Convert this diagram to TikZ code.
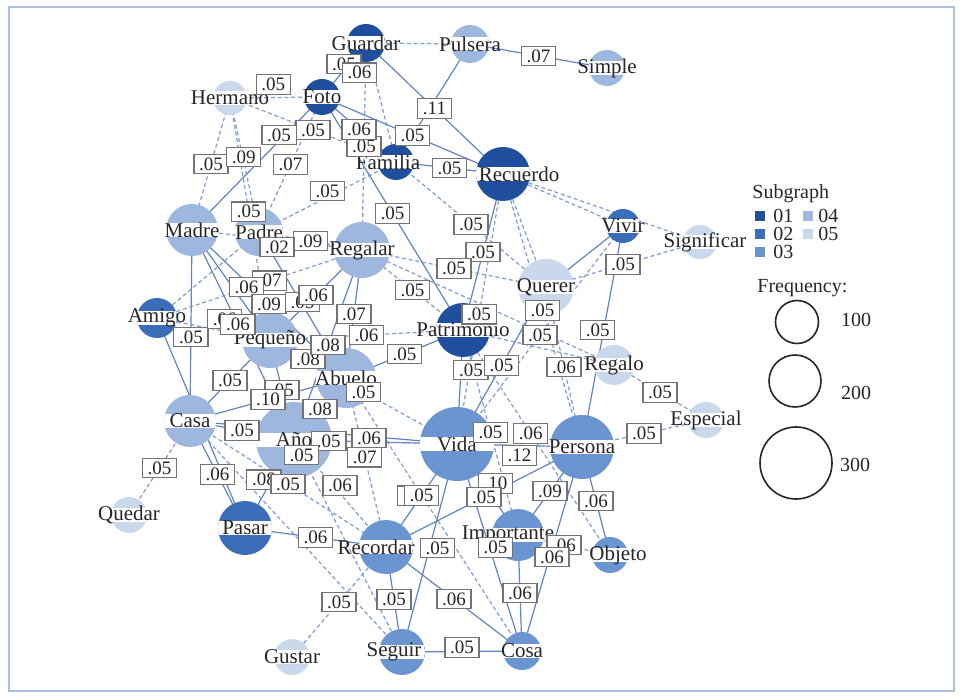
\documentclass[tikz,border=0pt]{standalone}
\usepackage{fontspec}
\setmainfont{Liberation Serif}
\definecolor{cA}{HTML}{1F4F9E}
\definecolor{cB}{HTML}{3B6DB8}
\definecolor{cC}{HTML}{6A95D1}
\definecolor{cD}{HTML}{9DB7DE}
\definecolor{cE}{HTML}{CAD8EC}
\definecolor{edgeS}{HTML}{6284C0}
\definecolor{edgeD}{HTML}{7F9DD2}
\definecolor{framec}{HTML}{A9BFDD}
\pgfdeclarelayer{bgl}
\pgfdeclarelayer{edges}
\pgfsetlayers{bgl,edges,main}
\tikzset{
  wnode/.style={circle, inner sep=0pt, draw=none,
    path picture={\fill[white] ([yshift=-3.4pt]path picture bounding box.west) rectangle ([yshift=3.4pt]path picture bounding box.east);}},
  wlabel/.style={inner sep=0pt, font=\fontsize{10.5}{12}\selectfont, text=black!85},
  sol/.style={draw=edgeS, line width=0.6pt},
  dsh/.style={draw=edgeD, line width=0.6pt, dash pattern=on 2pt off 1.4pt},
  elab/.style={draw=black!55, fill=white, line width=0.6pt, inner xsep=2.6pt, inner ysep=1.6pt, font=\fontsize{9.5}{11}\selectfont, text=black!85},
  legtxt/.style={inner sep=0pt, font=\fontsize{10}{12}\selectfont, text=black!85},
  legsq/.style={minimum size=5pt, inner sep=0pt, draw=none},
  legcirc/.style={circle, draw=black!85, line width=0.8pt, inner sep=0pt}
}
% \wn[label options]{name}{x}{y}{radius px}{colour}{text}
\newcommand\wn[7][]{\node[wnode, fill=#6, minimum size=#5pt, label={[wlabel,#1]center:#7}] (#2) at (#3,#4) {};}
% \E[label options]{style}{from}{to}{pos}{label}
\newcommand\E[6][]{%
  \begin{pgfonlayer}{edges}\draw[#2] (#3.center) -- (#4.center) coordinate[pos=#5] (lp);\end{pgfonlayer}
  \node[elab,#1] at (lp) {#6};}
\newcommand\En[3]{%
  \begin{pgfonlayer}{edges}\draw[#1] (#2.center) -- (#3.center);\end{pgfonlayer}}
\begin{document}
\begin{tikzpicture}[x=0.5pt,y=-0.5pt]
\useasboundingbox (0,0) rectangle (962,699);
\begin{pgfonlayer}{bgl}
\fill[white] (0,0) rectangle (962,699);
\end{pgfonlayer}
\draw[framec, line width=1pt] (9,7) rectangle (954,691);
% nodes
\wn{guardar}{366}{43}{19}{cA}{Guardar}
\wn{pulsera}{470}{44}{19}{cD}{Pulsera}
\wn{simple}{607}{68}{18}{cD}{Simple}
\wn{hermano}{230}{98}{17}{cE}{Hermano}
\wn{foto}{322}{97}{18}{cA}{Foto}
\wn[xshift=-4pt]{familia}{396}{162}{18}{cA}{Familia}
\wn[xshift=8pt]{recuerdo}{503}{174}{27}{cA}{Recuerdo}
\wn{vivir}{623}{226}{17}{cB}{Vivir}
\wn[xshift=2.5pt]{significar}{700}{242}{17}{cE}{Significar}
\wn{madre}{192}{230}{26}{cD}{Madre}
\wn{padre}{259}{232}{24}{cD}{Padre}
\wn{regalar}{362}{250}{28}{cD}{Regalar}
\wn{querer}{546}{287}{28}{cE}{Querer}
\wn{amigo}{157}{318}{20}{cB}{Amigo}
\wn{pequeno}{270}{340}{28}{cD}{Pequeño}
\wn{patrimonio}{463}{330}{27}{cA}{Patrimonio}
\wn{abuelo}{346}{378}{30}{cD}{Abuelo}
\wn{regalo}{614}{365}{20}{cE}{Regalo}
\wn{casa}{190}{421}{26}{cD}{Casa}
\wn{ano}{294}{440}{38}{cD}{Año}
\wn{vida}{457}{444}{37}{cC}{Vida}
\wn{persona}{582}{447}{32}{cC}{Persona}
\wn{especial}{706}{420}{18}{cE}{Especial}
\wn{quedar}{129}{515}{18}{cE}{Quedar}
\wn{pasar}{245}{528}{27}{cB}{Pasar}
\wn[xshift=-5pt]{recordar}{386}{547}{27}{cC}{Recordar}
\wn[xshift=-5pt]{importante}{518}{535}{26}{cC}{Importante}
\wn[xshift=4pt]{objeto}{610}{555}{18}{cC}{Objeto}
\wn{gustar}{292}{657}{18}{cE}{Gustar}
\wn[xshift=-4pt]{seguir}{402}{652}{23}{cC}{Seguir}
\wn{cosa}{522}{651}{19}{cC}{Cosa}
% edges
\En{dsh}{guardar}{pulsera}
\E{sol}{pulsera}{simple}{0.5}{.07}
\En{sol}{pulsera}{familia}
\E{sol}{guardar}{recuerdo}{0.5}{.11}
\E[yshift=3pt]{sol}{guardar}{foto}{0.5}{.05}
\E[xshift=-7pt]{dsh}{guardar}{familia}{0.25}{.06}
\E{dsh}{guardar}{regalar}{0.5}{.05}
\E[yshift=6.5pt]{dsh}{hermano}{foto}{0.47}{.05}
\E{dsh}{hermano}{familia}{0.5}{.05}
\E{sol}{foto}{familia}{0.5}{.06}
\E{sol}{foto}{recuerdo}{0.5}{.05}
\E{sol}{familia}{recuerdo}{0.5}{.05}
\E{dsh}{hermano}{madre}{0.5}{.05}
\E[yshift=3pt]{sol}{foto}{madre}{0.33}{.05}
\E[yshift=2pt]{dsh}{hermano}{padre}{0.47}{.09}
\E{dsh}{padre}{foto}{0.5}{.07}
\E[yshift=3pt]{dsh}{padre}{familia}{0.5}{.05}
\E{dsh}{hermano}{pequeno}{0.47}{.05}
\E{sol}{foto}{patrimonio}{0.5}{.05}
\E{dsh}{familia}{querer}{0.5}{.05}
\E{dsh}{padre}{regalar}{0.5}{.09}
\E[yshift=-3.5pt]{dsh}{madre}{regalar}{0.5}{.02}
\E{sol}{recuerdo}{patrimonio}{0.5}{.05}
\E{dsh}{regalar}{querer}{0.5}{.05}
\E{dsh}{regalar}{patrimonio}{0.5}{.05}
\En{dsh}{recuerdo}{querer}
\En{dsh}{recuerdo}{vivir}
\En{dsh}{recuerdo}{significar}
\E{dsh}{querer}{significar}{0.5}{.05}
\En{sol}{vivir}{querer}
\E[xshift=-3pt]{sol}{vivir}{persona}{0.47}{.05}
\E{dsh}{recuerdo}{persona}{0.5}{.05}
\E{dsh}{vivir}{vida}{0.5}{.05}
\E{dsh}{recuerdo}{vida}{0.52}{.05}
\En{dsh}{regalar}{regalo}
\En{dsh}{regalo}{patrimonio}
\E{sol}{regalar}{abuelo}{0.5}{.07}
\E{dsh}{pequeno}{patrimonio}{0.5}{.06}
\E{sol}{abuelo}{patrimonio}{0.5}{.05}
\E[xshift=5pt]{sol}{patrimonio}{vida}{0.35}{.05}
\E{sol}{querer}{vida}{0.5}{.05}
\E{dsh}{querer}{persona}{0.5}{.06}
\E{dsh}{regalo}{especial}{0.5}{.05}
\E{dsh}{persona}{especial}{0.5}{.05}
\E{dsh}{pequeno}{vida}{0.5}{.05}
\E{sol}{pequeno}{abuelo}{0.5}{.08}
\E{sol}{regalar}{ano}{0.5}{.08}
\E{sol}{madre}{casa}{0.56}{.05}
\E{dsh}{amigo}{regalar}{0.55}{.07}
\E[xshift=7pt]{sol}{madre}{pequeno}{0.52}{.06}
\E{sol}{madre}{abuelo}{0.5}{.09}
\E[yshift=1.5pt]{sol}{padre}{abuelo}{0.5}{.05}
\E{sol}{pequeno}{regalar}{0.5}{.06}
\E[yshift=6pt]{dsh}{amigo}{pequeno}{0.6}{.06}
\E{sol}{madre}{ano}{0.45}{.06}
\En{dsh}{amigo}{padre}
\E{sol}{casa}{pequeno}{0.5}{.05}
\E{sol}{pequeno}{ano}{0.5}{.05}
\E{sol}{casa}{abuelo}{0.5}{.10}
\E{sol}{abuelo}{ano}{0.5}{.08}
\E{sol}{casa}{ano}{0.5}{.05}
\E[yshift=-4pt]{sol}{casa}{vida}{0.52}{.05}
\E[yshift=2pt]{sol}{ano}{vida}{0.46}{.06}
\E{dsh}{abuelo}{recordar}{0.47}{.07}
\E{dsh}{ano}{seguir}{0.07}{.05}
\E{sol}{casa}{pasar}{0.5}{.06}
\En{sol}{amigo}{pasar}
\E{dsh}{casa}{quedar}{0.5}{.05}
\E[xshift=-4pt]{sol}{ano}{pasar}{0.45}{.08}
\E{dsh}{casa}{recordar}{0.5}{.05}
\E{sol}{pasar}{recordar}{0.5}{.06}
\E[yshift=4pt]{dsh}{ano}{recordar}{0.5}{.06}
\E[xshift=-6pt, yshift=4pt]{dsh}{abuelo}{cosa}{0.46}{.05}
\E{sol}{recordar}{vida}{0.5}{.05}
\E[xshift=4pt, yshift=3pt]{sol}{vida}{importante}{0.5}{.10}
\E{sol}{recordar}{persona}{0.5}{.05}
\E[yshift=-5pt]{sol}{vida}{persona}{0.5}{.12}
\E{dsh}{patrimonio}{importante}{0.5}{.05}
\E{dsh}{patrimonio}{objeto}{0.46}{.06}
\E{sol}{importante}{persona}{0.5}{.09}
\E{sol}{persona}{objeto}{0.5}{.06}
\E{dsh}{importante}{objeto}{0.5}{.06}
\E[yshift=-4pt]{sol}{persona}{cosa}{0.5}{.06}
\E[xshift=3pt]{sol}{vida}{cosa}{0.5}{.05}
\E{sol}{importante}{cosa}{0.5}{.06}
\E[xshift=4pt]{sol}{vida}{seguir}{0.5}{.05}
\E{sol}{recordar}{cosa}{0.5}{.06}
\E{sol}{recordar}{seguir}{0.5}{.05}
\E[yshift=2pt]{sol}{seguir}{cosa}{0.5}{.05}
\E{dsh}{recordar}{gustar}{0.5}{.05}
\En{dsh}{casa}{seguir}
% legend
\node[legtxt, anchor=west] (lsub) at (752,194) {Subgraph};
\node[legsq, fill=cA] (q1) at (760,216) {};
\node[legtxt, anchor=west] (t1) at (773,216) {01};
\node[legsq, fill=cB] (q2) at (760,234) {};
\node[legtxt, anchor=west] (t2) at (773,234) {02};
\node[legsq, fill=cC] (q3) at (760,252) {};
\node[legtxt, anchor=west] (t3) at (773,252) {03};
\node[legsq, fill=cD] (q4) at (808,216) {};
\node[legtxt, anchor=west] (t4) at (818,216) {04};
\node[legsq, fill=cE] (q5) at (808,234) {};
\node[legtxt, anchor=west] (t5) at (818,234) {05};
\node[legtxt, anchor=west] (lfreq) at (757,288) {Frequency:};
\node[legcirc, minimum size=21.5pt] (f1) at (797,322) {};
\node[legtxt] (n1) at (856,320) {100};
\node[legcirc, minimum size=26pt] (f2) at (795,381) {};
\node[legtxt] (n2) at (856,393) {200};
\node[legcirc, minimum size=36pt] (f3) at (796,463) {};
\node[legtxt] (n3) at (855,465) {300};
\end{tikzpicture}
\end{document}
